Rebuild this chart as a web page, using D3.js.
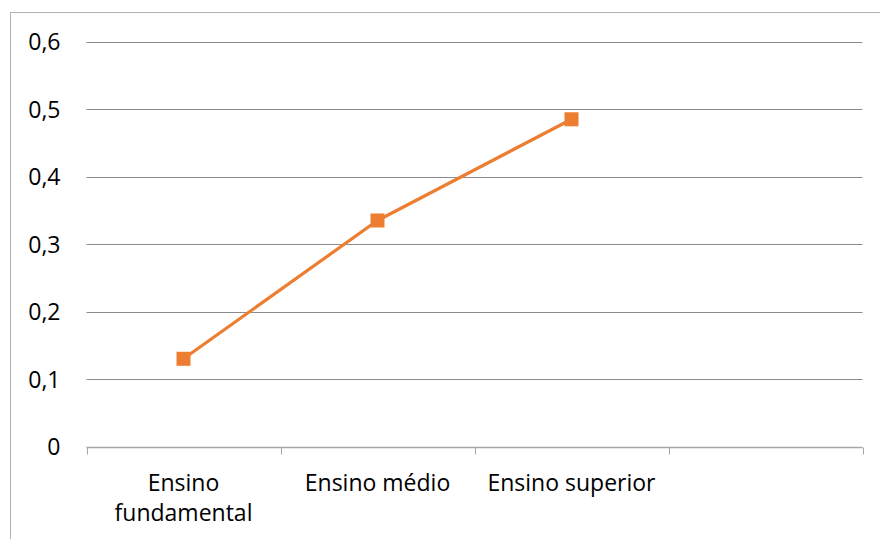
<!DOCTYPE html>
<html>
<head>
<meta charset="utf-8">
<script src="https://cdn.jsdelivr.net/npm/d3@7"></script>
<style>
  html, body { margin: 0; padding: 0; background: #fff; }
  svg { display: block; }
  text { font-family: "Open Sans", "Noto Sans", sans-serif; fill: #000; }
</style>
</head>
<body>
<svg id="chart" width="880" height="539"></svg>
<script>
// Education level categories (the fourth slot is left empty on the axis)
const categories = ["Ensino fundamental", "Ensino médio", "Ensino superior", ""];
const values = [0.13, 0.335, 0.485];
const yTicks = [0, 0.1, 0.2, 0.3, 0.4, 0.5, 0.6];
const yTickLabels = ["0", "0,1", "0,2", "0,3", "0,4", "0,5", "0,6"];

const W = 880, H = 539;
const margin = { left: 86.5, right: 17.5, top: 41.7, bottom: 92.5 };

const svg = d3.select("#chart");

// outer chart frame
svg.append("rect")
  .attr("x", 10.5).attr("y", 12.5)
  .attr("width", W + 20).attr("height", H + 20)
  .attr("fill", "none").attr("stroke", "#b3b3b3").attr("stroke-width", 1);

const x = d3.scaleBand()
  .domain(categories.map((c, i) => i))
  .range([margin.left, W - margin.right])
  .paddingInner(0).paddingOuter(0);

const y = d3.scaleLinear()
  .domain([0, 0.6])
  .range([H - margin.bottom, margin.top]);

// horizontal gridlines
svg.append("g")
  .selectAll("line")
  .data(yTicks.filter(t => t > 0))
  .join("line")
  .attr("x1", margin.left).attr("x2", W - margin.right)
  .attr("y1", d => Math.round(y(d)) + 0.5).attr("y2", d => Math.round(y(d)) + 0.5)
  .attr("stroke", "#8c8c8c").attr("stroke-width", 1);

// y axis labels
const yAxis = d3.axisLeft(y)
  .tickValues(yTicks)
  .tickFormat((d, i) => yTickLabels[i])
  .tickSize(0)
  .tickPadding(26);
const gy = svg.append("g").attr("transform", `translate(${margin.left},0)`).call(yAxis);
gy.select(".domain").remove();
gy.selectAll("text")
  .style("font-size", "23px")
  .style("font-family", '"Open Sans", sans-serif')
  .attr("dy", "0.35em");

// x axis with tick marks on band boundaries
const x0 = Math.round(y(0)) + 0.5;
const gx = svg.append("g");
gx.append("line")
  .attr("x1", margin.left).attr("x2", W - margin.right)
  .attr("y1", x0).attr("y2", x0)
  .attr("stroke", "#a6a6a6").attr("stroke-width", 1.5);
const bounds = categories.map((c, i) => x(i)).concat([x(categories.length - 1) + x.bandwidth()]);
gx.selectAll("line.tick")
  .data(bounds)
  .join("line")
  .attr("class", "tick")
  .attr("x1", d => Math.round(d) + 0.5).attr("x2", d => Math.round(d) + 0.5)
  .attr("y1", x0).attr("y2", x0 + 7)
  .attr("stroke", "#a6a6a6").attr("stroke-width", 1);

// category labels, wrapped to the band width
const labelFont = 23;
categories.forEach((c, i) => {
  if (!c) return;
  const cx = x(i) + x.bandwidth() / 2;
  const t = gx.append("text")
    .attr("x", cx).attr("y", 491)
    .attr("text-anchor", "middle")
    .style("font-size", labelFont + "px");
  const words = c.split(" ");
  let line = [];
  let tspan = t.append("tspan").attr("x", cx).attr("dy", 0);
  words.forEach(w => {
    line.push(w);
    tspan.text(line.join(" "));
    if (tspan.node().getComputedTextLength() > x.bandwidth() - 20 && line.length > 1) {
      line.pop();
      tspan.text(line.join(" "));
      line = [w];
      tspan = t.append("tspan").attr("x", cx).attr("dy", 30).text(w);
    }
  });
});

// data line
const pts = values.map((v, i) => [x(i) + x.bandwidth() / 2, y(v)]);
svg.append("path")
  .attr("d", d3.line()(pts))
  .attr("fill", "none")
  .attr("stroke", "#ED7D31")
  .attr("stroke-width", 3.2)
  .attr("stroke-linejoin", "round");

// square markers
const ms = 14;
svg.append("g")
  .selectAll("rect")
  .data(pts)
  .join("rect")
  .attr("x", d => d[0] - ms / 2).attr("y", d => d[1] - ms / 2)
  .attr("width", ms).attr("height", ms)
  .attr("fill", "#ED7D31");
</script>
</body>
</html>
